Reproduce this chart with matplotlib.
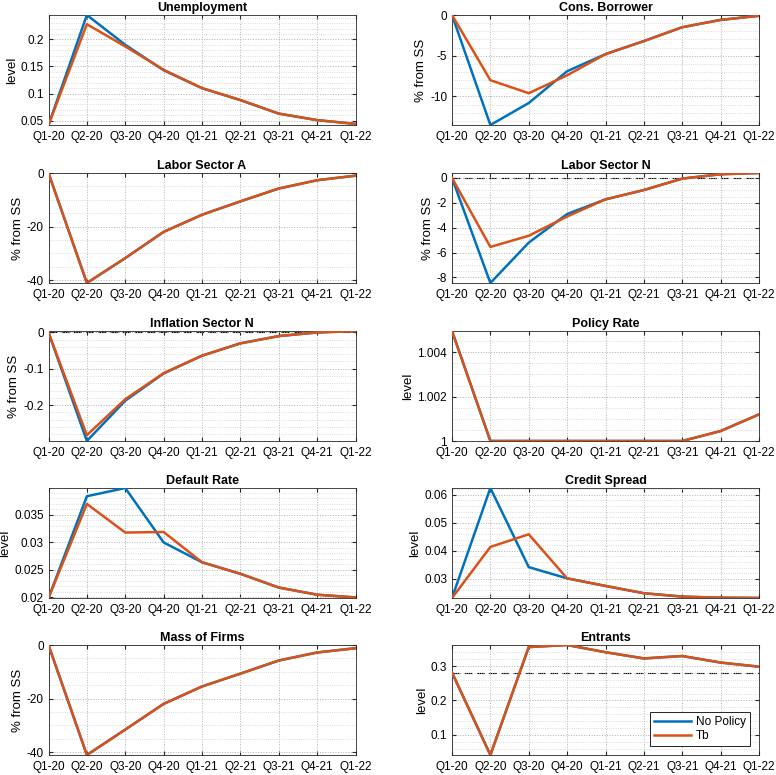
import matplotlib.pyplot as plt
import numpy as np
from matplotlib.ticker import AutoMinorLocator

plt.rcParams['font.family'] = ['Liberation Sans', 'DejaVu Sans']

quarters = ['Q1-20', 'Q2-20', 'Q3-20', 'Q4-20', 'Q1-21', 'Q2-21', 'Q3-21', 'Q4-21', 'Q1-22']

# panel data: no policy / Tb
unemp_np = [0.042, 0.245, 0.190, 0.143, 0.110, 0.088, 0.063, 0.051, 0.044]
unemp_tb = [0.042, 0.228, 0.187, 0.144, 0.110, 0.088, 0.063, 0.051, 0.044]
cons_np = [0.0, -13.5, -10.8, -6.9, -4.8, -3.2, -1.5, -0.6, -0.1]
cons_tb = [0.0, -8.0, -9.6, -7.4, -4.8, -3.2, -1.5, -0.6, -0.1]
labA_np = [0.0, -41.1, -31.8, -22.0, -15.6, -10.6, -5.8, -2.7, -1.0]
labA_tb = [0.0, -41.1, -31.8, -22.0, -15.6, -10.6, -5.8, -2.7, -1.0]
labN_np = [0.0, -8.45, -5.2, -2.9, -1.72, -0.97, -0.05, 0.3, 0.4]
labN_tb = [0.0, -5.55, -4.65, -3.1, -1.72, -0.97, -0.05, 0.3, 0.4]
infl_np = [0.0, -0.299, -0.188, -0.113, -0.064, -0.030, -0.010, 0.000, 0.004]
infl_tb = [0.0, -0.283, -0.184, -0.112, -0.064, -0.030, -0.010, 0.000, 0.004]
rate_np = [1.00496, 1.0, 1.0, 1.0, 1.0, 1.0, 1.0, 1.00045, 1.0012]
rate_tb = [1.00496, 1.0, 1.0, 1.0, 1.0, 1.0, 1.0, 1.00045, 1.0012]
dflt_np = [0.0199, 0.0384, 0.0399, 0.0300, 0.0264, 0.0243, 0.0218, 0.0205, 0.0200]
dflt_tb = [0.0199, 0.0370, 0.0318, 0.0319, 0.0264, 0.0243, 0.0218, 0.0205, 0.0200]
sprd_np = [0.0232, 0.0624, 0.0342, 0.0302, 0.0275, 0.0249, 0.0237, 0.0233, 0.0232]
sprd_tb = [0.0232, 0.0414, 0.0459, 0.0302, 0.0275, 0.0249, 0.0237, 0.0233, 0.0232]
mass_np = [0.0, -41.1, -31.6, -22.0, -15.5, -10.7, -5.8, -2.8, -1.2]
mass_tb = [0.0, -41.1, -31.6, -22.0, -15.5, -10.7, -5.8, -2.8, -1.2]
entr_np = [0.281, 0.0415, 0.355, 0.361, 0.340, 0.322, 0.329, 0.310, 0.298]
entr_tb = [0.281, 0.0415, 0.355, 0.361, 0.340, 0.322, 0.329, 0.310, 0.298]

panels = [
    ('Unemployment', 'level', unemp_np, unemp_tb, None, [0.05, 0.1, 0.15, 0.2], ['0.05', '0.1', '0.15', '0.2']),
    ('Cons. Borrower', '% from SS', cons_np, cons_tb, None, [-10, -5, 0], ['-10', '-5', '0']),
    ('Labor Sector A', '% from SS', labA_np, labA_tb, None, [-40, -20, 0], ['-40', '-20', '0']),
    ('Labor Sector N', '% from SS', labN_np, labN_tb, 0.0, [-8, -6, -4, -2, 0], ['-8', '-6', '-4', '-2', '0']),
    ('Inflation Sector N', '% from SS', infl_np, infl_tb, 0.0, [-0.2, -0.1, 0], ['-0.2', '-0.1', '0']),
    ('Policy Rate', 'level', rate_np, rate_tb, None, [1.0, 1.002, 1.004], ['1', '1.002', '1.004']),
    ('Default Rate', 'level', dflt_np, dflt_tb, None, [0.02, 0.025, 0.03, 0.035], ['0.02', '0.025', '0.03', '0.035']),
    ('Credit Spread', 'level', sprd_np, sprd_tb, None, [0.03, 0.04, 0.05, 0.06], ['0.03', '0.04', '0.05', '0.06']),
    ('Mass of Firms', '% from SS', mass_np, mass_tb, None, [-40, -20, 0], ['-40', '-20', '0']),
    ('Entrants', 'level', entr_np, entr_tb, 0.281, [0.1, 0.2, 0.3], ['0.1', '0.2', '0.3']),
]

blue = '#0072BD'
red = '#D95319'

fig = plt.figure(figsize=[7.76, 7.75], dpi=100)
W, H = 776, 775
lefts = [48.5, 452]
tops = [15, 173, 331, 488, 645]
aw, ah = 307, 110

x = np.arange(1, len(quarters) + 1)
for i, (title, ylab, ynp, ytb, ref, yt, ytl) in enumerate(panels):
    r, c = divmod(i, 2)
    ax = fig.add_axes([lefts[c] / W, 1 - (tops[r] + ah) / H, aw / W, ah / H])
    if ref is not None:
        ax.axhline(ref, color='k', ls=(0, (7, 4)), lw=0.8, zorder=1)
    ax.plot(x, ynp, color=blue, lw=1.8, label='No Policy', zorder=3)
    ax.plot(x, ytb, color=red, lw=1.8, label='Tb', zorder=4)
    lo = min(min(ynp), min(ytb))
    hi = max(max(ynp), max(ytb))
    ax.set_xlim(1, len(quarters))
    ax.set_xticks(x)
    ax.set_xticklabels(quarters)
    ax.set_yticks(yt)
    ax.set_yticklabels(ytl)
    ax.set_ylim(lo, hi)
    ax.yaxis.set_minor_locator(AutoMinorLocator())
    ax.set_title(title, fontsize=9, fontweight='bold', pad=3)
    ax.set_ylabel(ylab, fontsize=9.5, labelpad=2)
    ax.tick_params(axis='both', which='major', labelsize=8.5, direction='in',
                   length=3, color='#262626', top=True, right=True)
    ax.tick_params(axis='x', which='major', pad=4.5)
    ax.tick_params(axis='y', which='major', pad=3.5)
    ax.tick_params(axis='y', which='minor', length=0)
    ax.grid(True, which='major', color='#b0b0b0', ls=':', lw=0.7)
    ax.grid(True, which='minor', axis='y', color='#d0d0d0', ls=':', lw=0.6)
    for s in ax.spines.values():
        s.set_color('#262626')
        s.set_linewidth(0.6)
    if i == 9:
        leg = ax.legend(loc='lower right', fontsize=8.5, fancybox=False,
                        edgecolor='k', framealpha=1, handlelength=3.2,
                        borderpad=0.3, labelspacing=0.2, handletextpad=0.4,
                        borderaxespad=0.8)
        leg.get_frame().set_linewidth(0.6)

plt.savefig('out.png', dpi=100)
